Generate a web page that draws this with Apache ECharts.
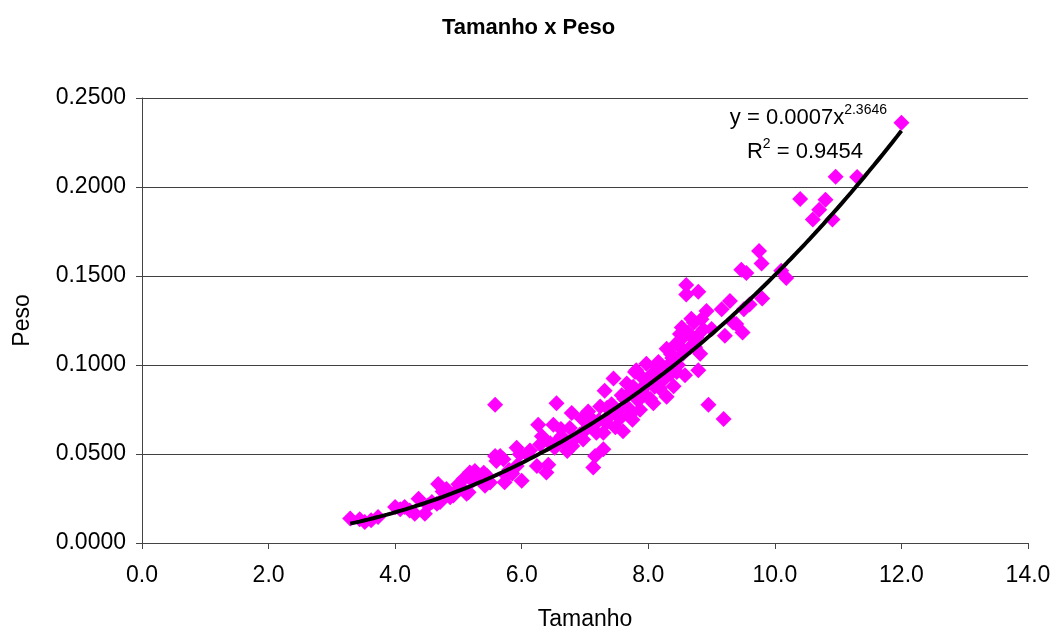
<!DOCTYPE html>
<html>
<head>
<meta charset="utf-8">
<title>Tamanho x Peso</title>
<script src="https://cdn.jsdelivr.net/npm/echarts@6/dist/echarts.min.js"></script>
<style>
  html, body { margin: 0; padding: 0; background: #ffffff; }
  #chart { width: 1057px; height: 636px; }
</style>
</head>
<body>
<div id="chart"></div>
<script>
// Measured length (Tamanho) of each specimen
const tamanho = [
  3.29, 3.44, 3.52, 3.62, 3.73, 4.00, 4.08, 4.15, 4.23, 4.31,
  4.37, 4.47, 4.52, 4.58, 4.66, 4.68, 4.71, 4.75, 4.81, 4.87,
  4.92, 4.97, 5.00, 5.05, 5.08, 5.13, 5.16, 5.18, 5.22, 5.26,
  5.29, 5.34, 5.40, 5.42, 5.45, 5.50, 5.58, 5.58, 5.60, 5.66,
  5.71, 5.73, 5.76, 5.80, 5.85, 5.92, 5.92, 5.97, 6.00, 6.08,
  6.13, 6.24, 6.26, 6.29, 6.32, 6.39, 6.42, 6.45, 6.50, 6.52,
  6.55, 6.58, 6.62, 6.63, 6.68, 6.72, 6.76, 6.79, 6.80, 6.85,
  6.92, 6.95, 6.97, 7.02, 7.05, 7.08, 7.10, 7.13, 7.16, 7.18,
  7.22, 7.24, 7.29, 7.29, 7.31, 7.34, 7.35, 7.38, 7.42, 7.45,
  7.48, 7.52, 7.55, 7.58, 7.60, 7.62, 7.66, 7.68, 7.71, 7.72,
  7.75, 7.76, 7.79, 7.81, 7.84, 7.87, 7.90, 7.92, 7.93, 7.95,
  7.97, 8.00, 8.03, 8.06, 8.08, 8.10, 8.12, 8.14, 8.16, 8.18,
  8.20, 8.24, 8.26, 8.29, 8.29, 8.32, 8.35, 8.36, 8.38, 8.40,
  8.44, 8.45, 8.47, 8.50, 8.50, 8.53, 8.55, 8.56, 8.58, 8.60,
  8.60, 8.63, 8.66, 8.68, 8.69, 8.72, 8.74, 8.76, 8.79, 8.79,
  8.82, 8.84, 8.87, 8.92, 8.95, 9.00, 9.16, 9.19, 9.21, 9.29,
  9.34, 9.39, 9.47, 9.49, 9.51, 9.55, 9.60, 9.75, 9.79, 9.80,
  10.10, 10.18, 10.40, 10.60, 10.70, 10.80, 10.91, 10.96, 11.30, 12.00
];

// Measured weight (Peso) of each specimen, same order as tamanho
const peso = [
  0.0137, 0.0133, 0.0118, 0.0128, 0.0146, 0.0202, 0.0190, 0.0202, 0.0183, 0.0165,
  0.0248, 0.0165, 0.0212, 0.0230, 0.0220, 0.0331, 0.0230, 0.0290, 0.0304, 0.0257,
  0.0267, 0.0294, 0.0330, 0.0310, 0.0359, 0.0276, 0.0285, 0.0396, 0.0350, 0.0405,
  0.0378, 0.0365, 0.0395, 0.0322, 0.0378, 0.0340, 0.0776, 0.0489, 0.0461, 0.0489,
  0.0470, 0.0341, 0.0378, 0.0410, 0.0390, 0.0535, 0.0433, 0.0498, 0.0350, 0.0498,
  0.0520, 0.0433, 0.0665, 0.0554, 0.0600, 0.0396, 0.0440, 0.0560, 0.0665, 0.0535,
  0.0785, 0.0580, 0.0640, 0.0600, 0.0560, 0.0517, 0.0646, 0.0730, 0.0545, 0.0590,
  0.0609, 0.0700, 0.0581, 0.0640, 0.0739, 0.0656, 0.0700, 0.0424, 0.0489, 0.0620,
  0.0690, 0.0767, 0.0526, 0.0619, 0.0856, 0.0674, 0.0760, 0.0710, 0.0780, 0.0924,
  0.0650, 0.0740, 0.0700, 0.0830, 0.0628, 0.0810, 0.0896, 0.0760, 0.0720, 0.0850,
  0.0693, 0.0878, 0.0961, 0.0970, 0.0800, 0.0748, 0.0860, 0.0924, 0.0880, 0.0830,
  0.1007, 0.0900, 0.0811, 0.0950, 0.0785, 0.0878, 0.0920, 0.0990, 0.1017, 0.0870,
  0.0960, 0.0970, 0.0924, 0.0822, 0.1091, 0.1000, 0.0950, 0.1060, 0.1040, 0.0880,
  0.1120, 0.0960, 0.1000, 0.1137, 0.1174, 0.1211, 0.1063, 0.1080, 0.0943, 0.1396,
  0.1450, 0.1183, 0.1100, 0.1260, 0.1156, 0.1239, 0.1100, 0.1156, 0.0970, 0.1411,
  0.1063, 0.1257, 0.1200, 0.1304, 0.0776, 0.1202, 0.1313, 0.0696, 0.1165, 0.1360,
  0.1239, 0.1230, 0.1535, 0.1183, 0.1313, 0.1517, 0.1340, 0.1640, 0.1570, 0.1374,
  0.1530, 0.1489, 0.1933, 0.1818, 0.1872, 0.1928, 0.1818, 0.2057, 0.2056, 0.2361
];

// Power trend line y = a * x^b (the label prints a rounded to 4 decimals)
const trendCoef = 0.00065;
const trendExp = 2.3646;
const trendLabel = 'y = 0.0007x{sup|2.3646}';
const r2Label = 'R{sup|2} = 0.9454';

// Axis tick settings
const xTicks = { min: 0, max: 14, step: 2 };
const yTicks = { min: 0, max: 0.25, step: 0.05 };

const points = tamanho.map((t, i) => [t, peso[i]]);

const xMinData = Math.min(...tamanho);
const xMaxData = Math.max(...tamanho);
const trend = [];
const nSteps = 120;
for (let i = 0; i <= nSteps; i++) {
  const x = xMinData + (xMaxData - xMinData) * i / nSteps;
  trend.push([x, trendCoef * Math.pow(x, trendExp)]);
}

const FONT = '"Liberation Sans", Arial, sans-serif';

const chart = echarts.init(document.getElementById('chart'), null, { renderer: 'canvas' });

chart.setOption({
  backgroundColor: '#ffffff',
  animation: false,
  title: {
    text: 'Tamanho x Peso',
    left: 'center',
    top: 12,
    textStyle: { fontFamily: FONT, fontSize: 22, fontWeight: 'bold', color: '#000' }
  },
  grid: { left: 142, right: 29, top: 98, bottom: 88, containLabel: false },
  xAxis: {
    type: 'value',
    min: xTicks.min, max: xTicks.max, interval: xTicks.step,
    name: 'Tamanho',
    nameLocation: 'middle',
    nameGap: 65,
    nameTextStyle: { fontFamily: FONT, fontSize: 23, color: '#000' },
    axisLine: { show: true, onZero: false, lineStyle: { color: '#444', width: 1 } },
    axisTick: { show: true, length: 6, inside: false, lineStyle: { color: '#444' } },
    axisLabel: {
      fontFamily: FONT, fontSize: 23, color: '#000', margin: 21,
      formatter: v => v.toFixed(1)
    },
    splitLine: { show: false }
  },
  yAxis: {
    type: 'value',
    min: yTicks.min, max: yTicks.max, interval: yTicks.step,
    name: 'Peso',
    nameLocation: 'middle',
    nameGap: 108,
    nameRotate: 90,
    nameTextStyle: { fontFamily: FONT, fontSize: 23, color: '#000' },
    axisLine: { show: true, onZero: false, lineStyle: { color: '#444', width: 1 } },
    axisTick: { show: true, length: 6, inside: false, lineStyle: { color: '#444' } },
    axisLabel: {
      fontFamily: FONT, fontSize: 23, color: '#000', margin: 16,
      formatter: v => v.toFixed(4)
    },
    splitLine: { show: true, lineStyle: { color: '#404040', width: 1 } }
  },
  series: [
    {
      name: 'Peso',
      type: 'scatter',
      data: points,
      symbol: 'diamond',
      symbolSize: 16,
      itemStyle: { color: '#ff00ff', opacity: 1 },
      z: 2
    },
    {
      name: 'Tendência',
      type: 'line',
      data: trend,
      showSymbol: false,
      symbol: 'none',
      smooth: false,
      lineStyle: { color: '#000', width: 4 },
      z: 3,
      silent: true
    }
  ],
  graphic: [
    {
      type: 'text',
      right: 170,
      top: 103,
      style: {
        text: trendLabel,
        fontFamily: FONT,
        fontSize: 22,
        fill: '#000',
        rich: {
          sup: { fontSize: 14, fontFamily: FONT, fill: '#000', padding: [0, 0, 15, 0] }
        }
      },
      z: 10
    },
    {
      type: 'text',
      right: 194,
      top: 137,
      style: {
        text: r2Label,
        fontFamily: FONT,
        fontSize: 22,
        fill: '#000',
        rich: {
          sup: { fontSize: 14, fontFamily: FONT, fill: '#000', padding: [0, 0, 15, 0] }
        }
      },
      z: 10
    }
  ]
});
</script>
</body>
</html>
